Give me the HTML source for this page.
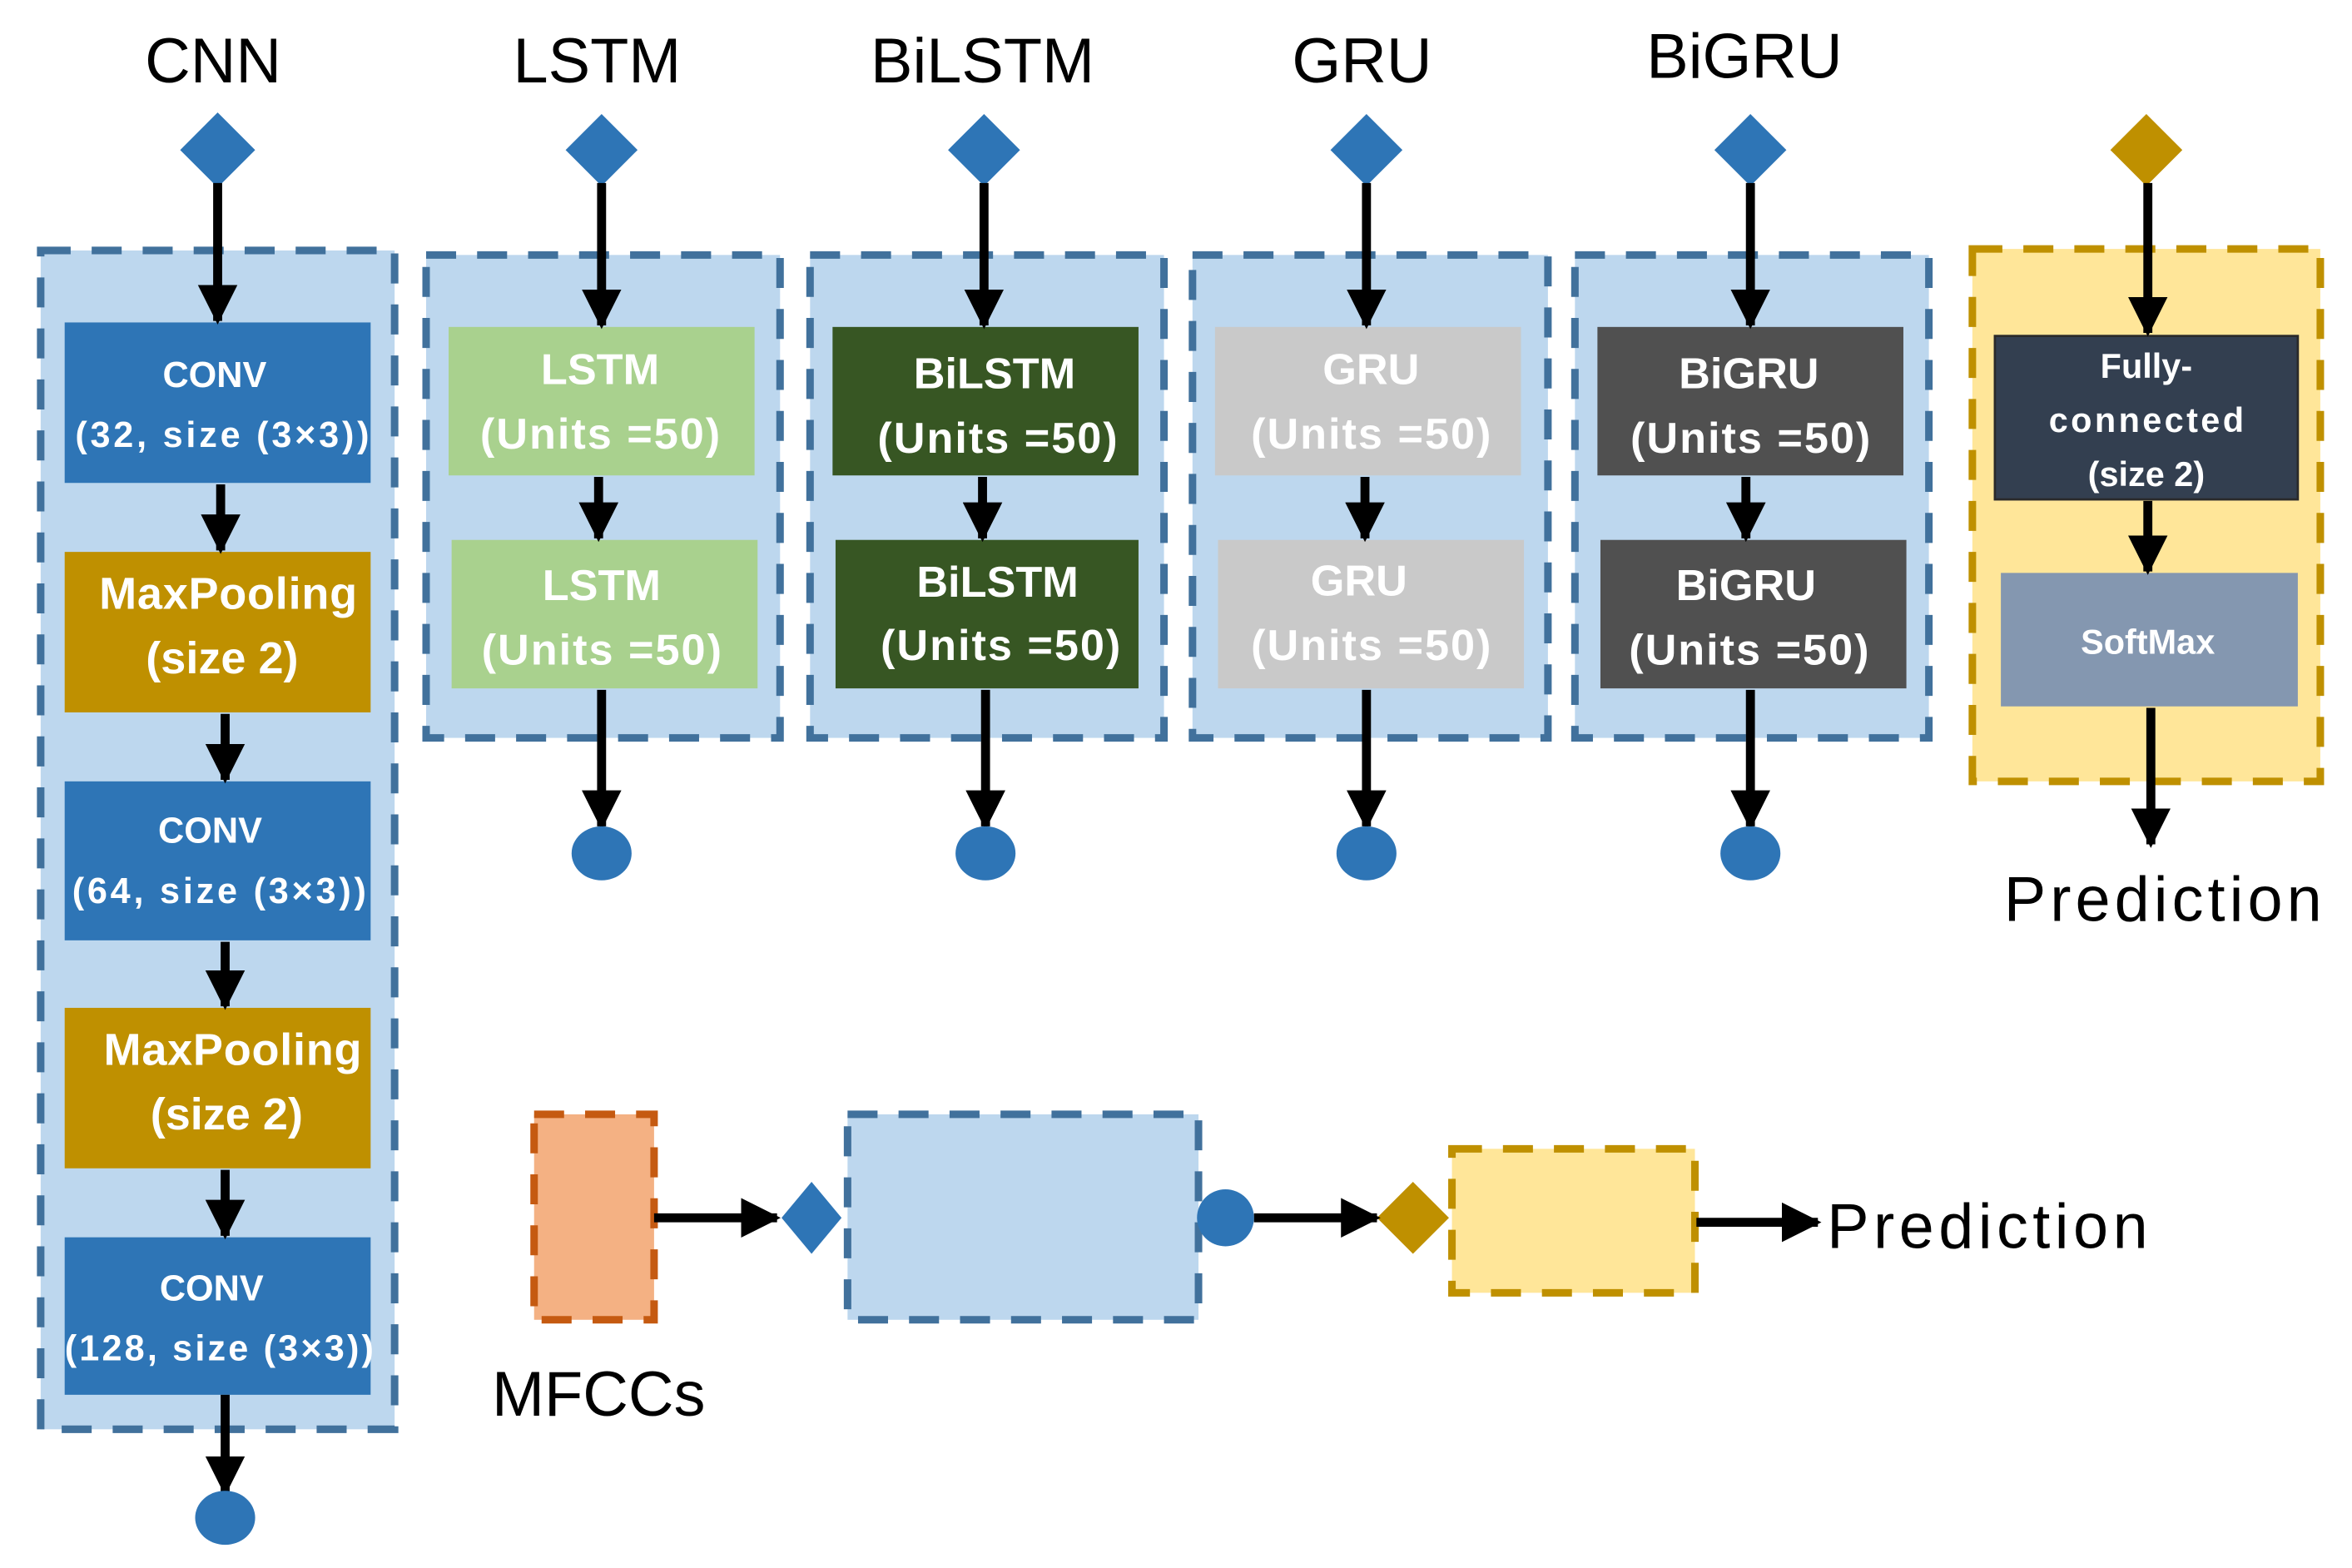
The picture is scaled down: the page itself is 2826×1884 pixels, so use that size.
<!DOCTYPE html>
<html><head><meta charset="utf-8"><style>
html,body{margin:0;padding:0;background:#fff;}
svg{display:block;}
text{font-family:"Liberation Sans","DejaVu Sans",sans-serif;}
.t{font-size:42px;fill:#000;text-anchor:middle;}
.b{font-weight:bold;fill:#fff;text-anchor:middle;}
</style></head><body>
<svg width="2826" height="1884" viewBox="0 0 1568 1045.5" xmlns="http://www.w3.org/2000/svg">
<defs>
<marker id="ah" markerWidth="4.4" markerHeight="4.4" refX="4" refY="2.2" orient="auto" markerUnits="strokeWidth">
<path d="M0,0 L4.4,2.2 L0,4.4 Z" fill="#000"/></marker>
</defs>
<g stroke-dasharray="20,14" stroke-width="5">
<rect x="27" y="167" width="236" height="786" fill="#BDD7EE" stroke="#41719C"/>
<rect x="284" y="170" width="236" height="322" fill="#BDD7EE" stroke="#41719C"/>
<rect x="540" y="170" width="236" height="322" fill="#BDD7EE" stroke="#41719C"/>
<rect x="795" y="170" width="237" height="322" fill="#BDD7EE" stroke="#41719C"/>
<rect x="1050" y="170" width="236" height="322" fill="#BDD7EE" stroke="#41719C"/>
<rect x="1315" y="166" width="232" height="355" fill="#FFE699" stroke="#BF9000"/>
<rect x="356" y="743" width="80" height="137" fill="#F4B183" stroke="#C55A11"/>
<rect x="565" y="743" width="234" height="137" fill="#BDD7EE" stroke="#41719C"/>
<rect x="968" y="766" width="162" height="96" fill="#FFE699" stroke="#BF9000"/>
</g>
<text class="t" x="142" y="55">CNN</text>
<text class="t" x="398" y="55">LSTM</text>
<text class="t" x="655" y="55">BiLSTM</text>
<text class="t" x="908" y="55">GRU</text>
<text class="t" x="1163" y="52">BiGRU</text>
<g fill="#2E75B6">
<path d="M145,75 L170,100 L145,125 L120,100Z"/>
<path d="M401,76 L425,100 L401,124 L377,100Z"/>
<path d="M656,76 L680,100 L656,124 L632,100Z"/>
<path d="M911,76 L935,100 L911,124 L887,100Z"/>
<path d="M1167,76 L1191,100 L1167,124 L1143,100Z"/>
<path d="M541,788 L561,812 L541,836 L521,812Z"/>
</g>
<path d="M1431,76 L1455,100 L1431,124 L1407,100Z" fill="#BF9000"/>
<path d="M942,788 L966,812 L942,836 L918,812Z" fill="#BF9000"/>
<rect x="43" y="215" width="204" height="107" fill="#2E75B6"/>
<rect x="43" y="368" width="204" height="107" fill="#BF9000"/>
<rect x="43" y="521" width="204" height="106" fill="#2E75B6"/>
<rect x="43" y="672" width="204" height="107" fill="#BF9000"/>
<rect x="43" y="825" width="204" height="105" fill="#2E75B6"/>
<rect x="299" y="218" width="204" height="99" fill="#A9D18E"/>
<rect x="301" y="360" width="204" height="99" fill="#A9D18E"/>
<rect x="555" y="218" width="204" height="99" fill="#375623"/>
<rect x="557" y="360" width="202" height="99" fill="#375623"/>
<rect x="810" y="218" width="204" height="99" fill="#C9C9C9"/>
<rect x="812" y="360" width="204" height="99" fill="#C9C9C9"/>
<rect x="1065" y="218" width="204" height="99" fill="#505050"/>
<rect x="1067" y="360" width="204" height="99" fill="#505050"/>
<rect x="1330" y="224" width="202" height="109" fill="#333F50" stroke="#2a2a2a" stroke-width="1.5"/>
<rect x="1334" y="382" width="198" height="89" fill="#8497B0"/>
<g font-size="24">
<text class="b" x="143" y="258">CONV</text>
<text class="b" x="148" y="298" textLength="196">(32, size (3×3))</text>
<text class="b" x="140" y="562">CONV</text>
<text class="b" x="146" y="602" textLength="196">(64, size (3×3))</text>
<text class="b" x="141" y="867">CONV</text>
<text class="b" x="146" y="907" textLength="206">(128, size (3×3))</text>
</g>
<text class="b" x="152" y="406" font-size="30" textLength="172">MaxPooling</text>
<text class="b" x="148" y="449" font-size="30">(size 2)</text>
<text class="b" x="155" y="710" font-size="30" textLength="172">MaxPooling</text>
<text class="b" x="151" y="753" font-size="30">(size 2)</text>
<text class="b" x="400" y="256" font-size="29">LSTM</text>
<text class="b" x="400" y="299" font-size="29" textLength="160">(Units =50)</text>
<text class="b" x="401" y="400" font-size="29">LSTM</text>
<text class="b" x="401" y="443" font-size="29" textLength="160">(Units =50)</text>
<text class="b" x="663" y="259" font-size="29">BiLSTM</text>
<text class="b" x="665" y="302" font-size="29" textLength="160">(Units =50)</text>
<text class="b" x="665" y="398" font-size="29">BiLSTM</text>
<text class="b" x="667" y="440" font-size="29" textLength="160">(Units =50)</text>
<text class="b" x="914" y="256" font-size="29">GRU</text>
<text class="b" x="914" y="299" font-size="29" textLength="160">(Units =50)</text>
<text class="b" x="906" y="397" font-size="29">GRU</text>
<text class="b" x="914" y="440" font-size="29" textLength="160">(Units =50)</text>
<text class="b" x="1166" y="259" font-size="29">BiGRU</text>
<text class="b" x="1167" y="302" font-size="29" textLength="160">(Units =50)</text>
<text class="b" x="1164" y="400" font-size="29">BiGRU</text>
<text class="b" x="1166" y="443" font-size="29" textLength="160">(Units =50)</text>
<text class="b" x="1431" y="252" font-size="23">Fully-</text>
<text class="b" x="1431" y="288" font-size="23" textLength="130">connected</text>
<text class="b" x="1431" y="324" font-size="23">(size 2)</text>
<text class="b" x="1432" y="436" font-size="23">SoftMax</text>
<g stroke="#000" stroke-width="6" marker-end="url(#ah)" fill="none">
<line x1="145" y1="122" x2="145" y2="214"/>
<line x1="147" y1="323" x2="147" y2="367"/>
<line x1="150" y1="476" x2="150" y2="520"/>
<line x1="150" y1="628" x2="150" y2="671"/>
<line x1="150" y1="780" x2="150" y2="824"/>
<line x1="150" y1="930" x2="150" y2="995"/>
<line x1="401" y1="122" x2="401" y2="217"/>
<line x1="399" y1="318" x2="399" y2="359"/>
<line x1="401" y1="460" x2="401" y2="551"/>
<line x1="656" y1="122" x2="656" y2="217"/>
<line x1="655" y1="318" x2="655" y2="359"/>
<line x1="657" y1="460" x2="657" y2="551"/>
<line x1="911" y1="122" x2="911" y2="217"/>
<line x1="910" y1="318" x2="910" y2="359"/>
<line x1="911" y1="460" x2="911" y2="551"/>
<line x1="1167" y1="122" x2="1167" y2="217"/>
<line x1="1164" y1="318" x2="1164" y2="359"/>
<line x1="1167" y1="460" x2="1167" y2="551"/>
<line x1="1432" y1="122" x2="1432" y2="222"/>
<line x1="1432" y1="334" x2="1432" y2="381"/>
<line x1="1434" y1="472" x2="1434" y2="563"/>
<line x1="436" y1="812" x2="518" y2="812"/>
<line x1="836" y1="812" x2="918" y2="812"/>
<line x1="1131" y1="815" x2="1212" y2="815"/>
</g>
<g fill="#2E75B6">
<ellipse cx="150" cy="1012" rx="20" ry="18"/>
<ellipse cx="401" cy="569" rx="20" ry="18"/>
<ellipse cx="657" cy="569" rx="20" ry="18"/>
<ellipse cx="911" cy="569" rx="20" ry="18"/>
<ellipse cx="1167" cy="569" rx="20" ry="18"/>
<ellipse cx="817" cy="812" rx="19" ry="19"/>
</g>
<text class="t" x="1442" y="614" textLength="212">Prediction</text>
<text x="1218" y="832" font-size="42" textLength="214">Prediction</text>
<text class="t" x="399" y="944">MFCCs</text>
</svg>
</body></html>
